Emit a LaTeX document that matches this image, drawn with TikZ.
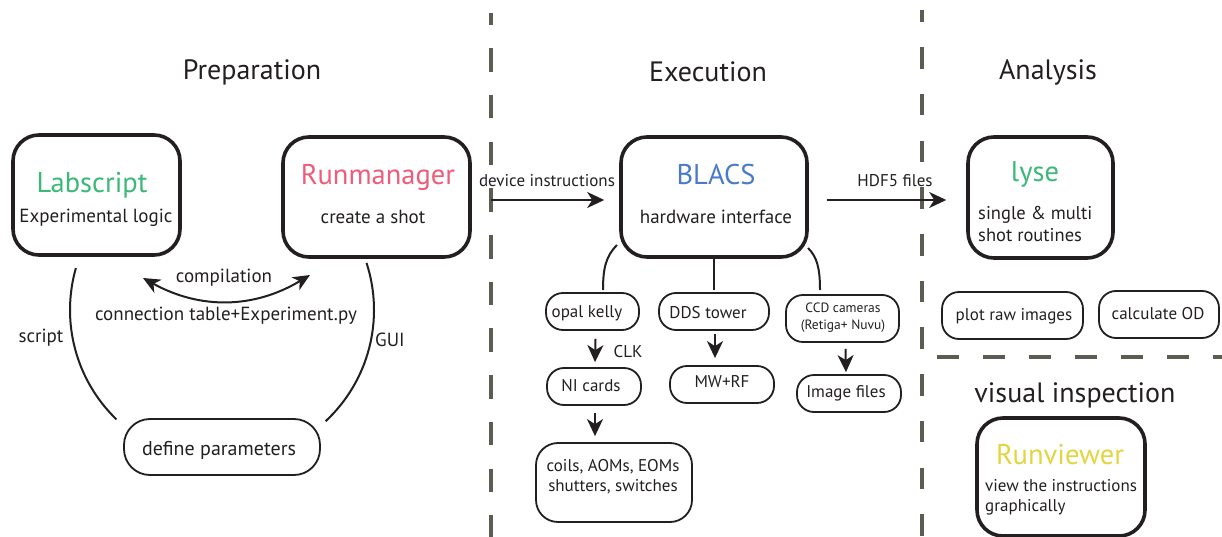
\documentclass[tikz,border=0pt]{standalone}
\usepackage{fontspec}
\setmainfont{PT Sans}
\usetikzlibrary{arrows.meta,calc}
\definecolor{dashgray}{HTML}{5C5C52}
\definecolor{labgreen}{HTML}{3CB878}
\definecolor{runpink}{HTML}{EE5C7A}
\definecolor{blacsblue}{HTML}{4A7BC8}
\definecolor{viewyellow}{HTML}{E3D540}
\definecolor{ink}{HTML}{231F20}
\tikzset{
  bigbox/.style={draw=ink, line width=3.6pt, rounded corners=26pt, inner sep=0pt},
  pill/.style={draw=ink, line width=1.8pt, rounded corners=17pt, inner sep=0pt},
  heading/.style={font=\fontsize{28}{32}\selectfont, text=ink, inner sep=0pt},
  boxtitle/.style={font=\fontsize{28.5}{32}\selectfont, inner sep=0pt},
  boxsub/.style={font=\fontsize{19}{22}\selectfont, text=ink, inner sep=0pt},
  preplbl/.style={font=\fontsize{19}{22}\selectfont, text=ink, inner sep=0pt},
  lbl/.style={font=\fontsize{17}{20}\selectfont, text=ink, inner sep=0pt},
  small/.style={font=\fontsize{13.5}{17}\selectfont, text=ink, inner sep=0pt},
  sep/.style={draw=dashgray, line width=4pt},
  conn/.style={draw=ink, line width=2pt},
  arr/.style={conn, -{Stealth[length=17pt,width=16pt,inset=5pt]}},
}
\begin{document}
\begin{tikzpicture}[x=1pt,y=-1pt]
\useasboundingbox (0,0) rectangle (1222,537);
% separators
\coordinate (s1t) at (490.7,13); \coordinate (s1b) at (490.7,537);
\coordinate (s2t) at (921.7,10); \coordinate (s2b) at (921.7,537);
\coordinate (s3l) at (937,357); \coordinate (s3r) at (1222,357);
\draw[sep, dash pattern=on 23.5pt off 23.2pt, dash phase=11.5pt] (s1t) -- (s1b);
\draw[sep, dash pattern=on 21.5pt off 25.2pt, dash phase=9.5pt] (s2t) -- (s2b);
\draw[sep, dash pattern=on 22pt off 24pt] (s3l) -- (s3r);
% headings
\node[heading] (hprep) at (252,72) {Preparation};
\node[heading] (hexec) at (708,72) {Execution};
\node[heading] (hana) at (1048,72) {Analysis};
\node[heading] (hvis) at (1075,395) {visual inspection};
% Preparation
\node[bigbox, minimum width=167pt, minimum height=120pt] (lab) at (96.5,195) {};
\node[boxtitle, text=labgreen] (labT) at (92,185) {Labscript};
\node[boxsub] (labS) at (96,218) {Experimental logic};
\node[bigbox, minimum width=187pt, minimum height=120pt] (run) at (376.5,197) {};
\node[boxtitle, text=runpink] (runT) at (378,177) {Runmanager};
\node[boxsub] (runS) at (373,217) {create a shot};
\node[pill, minimum width=196pt, minimum height=56pt, rounded corners=26pt] (par) at (222,447) {};
\node[preplbl, font=\fontsize{20}{24}\selectfont] (parT) at (219,450) {define parameters};
\coordinate (cc) at (222,310);
\draw[conn] ([shift={(164:152pt)}]cc) arc[start angle=164, end angle=226, radius=152pt];
\draw[conn] ([shift={(18:152pt)}]cc) arc[start angle=18, end angle=-47, radius=152pt];
\node[preplbl] (scr) at (41,338) {script};
\node[preplbl] (gui) at (390,340) {GUI};
\coordinate (c1) at (143,278); \coordinate (c2) at (310,275);
\draw[conn, {Stealth[length=17pt,width=15pt,inset=5pt]}-{Stealth[length=17pt,width=15pt,inset=5pt]}] (c1) to[bend right=30] (c2);
\node[preplbl] (comp) at (224,278) {compilation};
\node[preplbl] (ctab) at (226,316) {connection table+Experiment.py};
% Execution
\node[bigbox, minimum width=186pt, minimum height=120pt] (blacs) at (714,197) {};
\node[boxtitle, text=blacsblue] (blacsT) at (716,175) {BLACS};
\node[boxsub] (blacsS) at (716,217) {hardware interface};
\coordinate (di) at (491,200);
\draw[arr, shorten >=15pt] (di) -- (di -| blacs.west);
\node[lbl] (dil) at (547,181) {device instructions};
\node[bigbox, minimum width=145pt, minimum height=121pt] (lyse) at (1040.5,197.5) {};
\coordinate (hs) at (827,200);
\draw[arr, shorten >=20pt] (hs) -- (hs -| lyse.west);
\node[lbl] (hdf) at (895,181) {HDF5 files};
\node[pill, minimum width=93pt, minimum height=37pt] (opal) at (592.5,311.5) {};
\node[lbl] (opalT) at (587,313) {opal kelly};
\node[pill, minimum width=110pt, minimum height=37pt] (dds) at (714,311.5) {};
\node[lbl] (ddsT) at (708,313) {DDS tower};
\node[pill, minimum width=113pt, minimum height=47pt] (ccd) at (842.5,318.5) {};
\node[small, align=center] (ccdT) at (843,318) {CCD cameras\\(Retiga+ Nuvu)};
\node[pill, minimum width=94pt, minimum height=37pt] (ni) at (594,386.5) {};
\node[lbl] (niT) at (591,386) {NI cards};
\node[pill, minimum width=104pt, minimum height=37pt] (mw) at (722,384.5) {};
\node[lbl] (mwT) at (722,382) {MW+RF};
\node[pill, minimum width=104pt, minimum height=37pt] (img) at (849,393.5) {};
\node[lbl] (imgT) at (846,393) {Image files};
\node[pill, minimum width=156pt, minimum height=79pt, rounded corners=22pt] (coil) at (614,482.5) {};
\node[lbl, align=center] (coilT) at (613,477) {coils, AOMs, EOMs\\shutters, switches};
\draw[arr] ($(opal.south)+(3,8)$) coordinate (oa) -- ($(ni.north)+(1,-5)$);
\node[lbl] (clk) at (628,352) {CLK};
\draw[arr] ($(ni.south)+(1,7)$) coordinate (na) -- ($(coil.north)+(-19,-6)$);
\draw[arr] ($(dds.south)+(1,3)$) coordinate (da) -- ($(mw.north)+(-7,-7)$);
\draw[arr] ($(ccd.south)+(3,6)$) coordinate (ca) -- ($(img.north)+(-3,-2)$);
\coordinate (bl) at (617,245); \coordinate (blE) at (603,290);
\coordinate (bm) at (714,258); \coordinate (bmE) at (714,290);
\coordinate (br) at (808,248); \coordinate (brE) at (820,290);
\draw[conn] (bl) .. controls (606,256) and (603,268) .. (blE);
\draw[conn] (bm) -- (bmE);
\draw[conn] (br) .. controls (817,257) and (820,268) .. (brE);
% Analysis
\node[boxtitle, text=labgreen] (lyseT) at (1035,174) {lyse};
\node[boxsub, align=left, anchor=north west, font=\fontsize{18.5}{22}\selectfont] (lyseS) at (978,206) {single \& multi\\shot routines};
\node[pill, minimum width=141pt, minimum height=47pt] (plot) at (1012.5,315.5) {};
\node[lbl] (plotT) at (1014,316) {plot raw images};
\node[pill, minimum width=120pt, minimum height=47pt] (od) at (1159,314.5) {};
\node[lbl] (odT) at (1158,314) {calculate OD};
\node[bigbox, minimum width=168pt, minimum height=118pt] (rv) at (1061,477) {};
\node[boxtitle, text=viewyellow] (rvT) at (1060,455) {Runviewer};
\node[lbl, align=left, anchor=north west] (rvS) at (985,479) {view the instructions\\graphically};
\end{tikzpicture}
\end{document}
